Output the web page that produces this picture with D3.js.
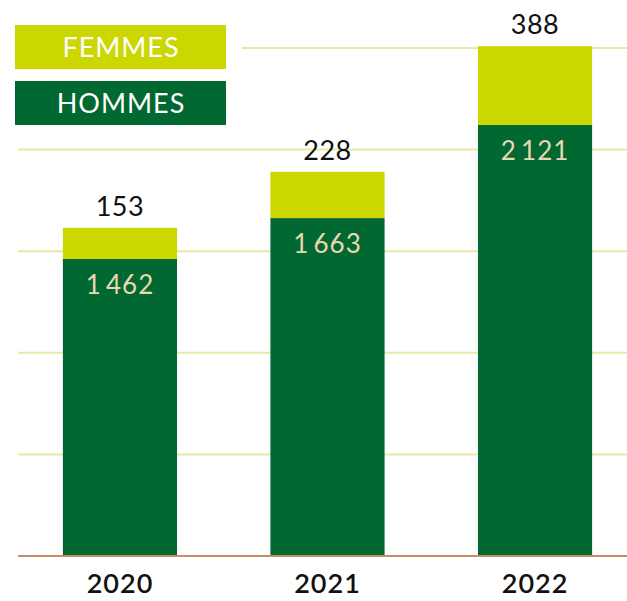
<!DOCTYPE html>
<html>
<head>
<meta charset="utf-8">
<script src="https://cdn.jsdelivr.net/npm/d3@7"></script>
<style>
  body { margin: 0; background: #fff; }
  svg text { font-family: Lato, "Noto Sans", sans-serif; }
</style>
</head>
<body>
<div id="chart"></div>
<script>
let years = ['2020', '2021', '2022']
let hommes = [1462, 1663, 2121]
let femmes = [153, 228, 388]
let yTicks = [0, 500, 1000, 1500, 2000, 2500]
let series = ['FEMMES', 'HOMMES']

let colors = { FEMMES: '#ccd600', HOMMES: '#006830' }

let width = 627, height = 601

let svg = d3.select('#chart').append('svg')
  .attr('width', width)
  .attr('height', height)

let x = d3.scaleBand()
  .domain(years)
  .range([11, 644])
  .paddingInner(0.45)
  .paddingOuter(0.25)

let y = d3.scaleLinear()
  .domain([0, 2500])
  .range([556, 48])

let fr = d3.formatLocale({ decimal: ',', thousands: '\u2009', grouping: [3], currency: ['', ' €'] })
let fmt = fr.format(',')

// gridlines
svg.append('g').selectAll('line')
  .data(yTicks.filter(d => d > 0))
  .join('line')
  .attr('x1', d => d === 2500 ? 242 : 18)
  .attr('x2', width)
  .attr('y1', d => y(d))
  .attr('y2', d => y(d))
  .attr('stroke', '#e8e9a6')
  .attr('stroke-width', 2)

let rows = years.map((yr, i) => ({ year: yr, HOMMES: hommes[i], FEMMES: femmes[i] }))
let stack = d3.stack().keys(['HOMMES', 'FEMMES'])(rows)

svg.append('g').selectAll('g')
  .data(stack)
  .join('g')
  .attr('fill', d => colors[d.key])
  .selectAll('rect')
  .data(d => d)
  .join('rect')
  .attr('x', d => x(d.data.year))
  .attr('width', x.bandwidth())
  .attr('y', d => y(d[1]))
  .attr('height', d => y(d[0]) - y(d[1]))

// baseline
svg.append('line')
  .attr('x1', 18).attr('x2', width)
  .attr('y1', y(0)).attr('y2', y(0))
  .attr('stroke', '#c68e66')
  .attr('stroke-width', 2)

// value labels
svg.append('g').selectAll('text')
  .data(rows)
  .join('text')
  .attr('x', d => x(d.year) + x.bandwidth() / 2)
  .attr('y', d => y(d.HOMMES) + 35)
  .attr('text-anchor', 'middle')
  .attr('fill', '#ecd6b4')
  .attr('font-size', 26)
  .attr('letter-spacing', 1)
  .text(d => fmt(d.HOMMES))

svg.append('g').selectAll('text')
  .data(rows)
  .join('text')
  .attr('x', d => x(d.year) + x.bandwidth() / 2)
  .attr('y', d => y(d.HOMMES + d.FEMMES) - 12)
  .attr('text-anchor', 'middle')
  .attr('fill', '#111')
  .attr('font-size', 27)
  .attr('letter-spacing', 0.5)
  .text(d => fmt(d.FEMMES))

// x axis
let xAxis = svg.append('g')
  .attr('transform', `translate(0,${y(0)})`)
  .call(d3.axisBottom(x).tickSize(0).tickPadding(18))
xAxis.select('.domain').remove()
xAxis.selectAll('text')
  .attr('font-size', 27)
  .attr('font-weight', 600)
  .attr('fill', '#111')
  .attr('letter-spacing', 1)

// legend
let legend = svg.append('g').selectAll('g')
  .data(series)
  .join('g')
  .attr('transform', (d, i) => `translate(15,${25 + i * 56})`)

legend.append('rect')
  .attr('width', 211)
  .attr('height', 44)
  .attr('fill', d => colors[d])

legend.append('text')
  .attr('x', 106)
  .attr('y', 32)
  .attr('text-anchor', 'middle')
  .attr('fill', '#fff')
  .attr('font-size', 27)
  .attr('letter-spacing', 1)
  .text(d => d)
</script>
</body>
</html>
